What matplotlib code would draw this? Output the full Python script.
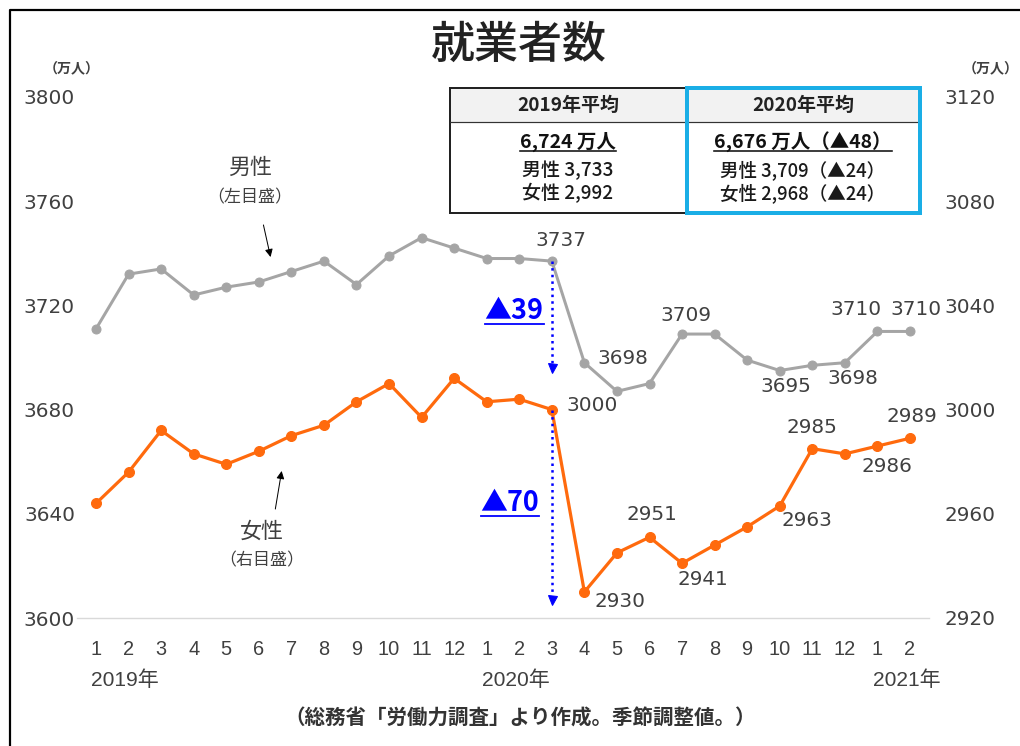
import matplotlib.pyplot as plt
import matplotlib.patches as mpatches

plt.rcParams['font.family'] = ['DejaVu Sans', 'Noto Sans CJK JP']

months = [1, 2, 3, 4, 5, 6, 7, 8, 9, 10, 11, 12,
          1, 2, 3, 4, 5, 6, 7, 8, 9, 10, 11, 12, 1, 2]
male = [3711, 3732, 3734, 3724, 3727, 3729, 3733, 3737, 3728, 3739, 3746, 3742,
        3738, 3738, 3737, 3698, 3687, 3690, 3709, 3709, 3699, 3695, 3697, 3698,
        3710, 3710]
female = [2964, 2976, 2992, 2983, 2979, 2984, 2990, 2994, 3003, 3010, 2997, 3012,
          3003, 3004, 3000, 2930, 2945, 2951, 2941, 2948, 2955, 2963, 2985, 2983,
          2986, 2989]
years = ['2019年', '2020年', '2021年']
year_idx = [0, 12, 24]

left_ticks = [3600, 3640, 3680, 3720, 3760, 3800]
right_ticks = [2920, 2960, 3000, 3040, 3080, 3120]

# which points get a value label and where (offset in px)
male_lab = {14: (9, 21), 15: (38, 4), 18: (4, 19), 21: (6, -16), 23: (8, -16),
            24: (-21, 22), 25: (6, 22)}
female_lab = {14: (40, 4), 15: (36, -10), 17: (2, 23), 18: (21, -16),
              21: (27, -15), 22: (0, 21), 24: (10, -20), 25: (2, 22)}

W, H = 1020, 746
DPI = 72
fig = plt.figure(figsize=(W / DPI, H / DPI), dpi=DPI)

x = list(range(len(months)))
ax = fig.add_axes([76.5 / W, (H - 618) / H, (929.5 - 76.5) / W, (618 - 97) / H])
ax2 = ax.twinx()

txt = '#404040'
gray = '#a5a5a5'
orange = '#ff6a0d'
jp = 'Noto Sans CJK JP'

ax.plot(x, male, color=gray, lw=3, marker='o', ms=9, zorder=3)
ax2.plot(x, female, color=orange, lw=3.2, marker='o', ms=10, zorder=3)

ax.set_xlim(-0.6, 25.6)
ax.set_ylim(3600, 3800)
ax2.set_ylim(2920, 3120)
ax.set_yticks(left_ticks)
ax2.set_yticks(right_ticks)
ax.set_xticks(x)
ax.set_xticklabels([str(m) for m in months], family='Liberation Sans')
ax.tick_params(axis='y', length=0, pad=1.5, labelsize=20, labelcolor=txt)
ax2.tick_params(axis='y', length=0, pad=15, labelsize=20, labelcolor=txt)
ax.tick_params(axis='x', length=0, pad=22, labelsize=20, labelcolor=txt)
for a in (ax, ax2):
    for s in ['top', 'left', 'right']:
        a.spines[s].set_visible(False)
    a.spines['bottom'].set_color('#d9d9d9')
    a.spines['bottom'].set_linewidth(1.2)
    a.patch.set_visible(False)

for i, (dx, dy) in male_lab.items():
    ax.annotate(str(male[i]), (i, male[i]), xytext=(dx, dy), textcoords='offset points',
                ha='center', va='center', fontsize=20, color=txt)
for i, (dx, dy) in female_lab.items():
    ax2.annotate(str(female[i]), (i, female[i]), xytext=(dx, dy), textcoords='offset points',
                 ha='center', va='center', fontsize=20, color=txt)

# blue dotted drop arrows (Feb->Apr 2020 change)
ax.plot([14, 14], [male[14], male[15] - 1], ls=':', color='blue', lw=2.5, zorder=4)
ax.plot(14, male[15] - 2, marker='v', ms=9, color='blue', zorder=4)
ax2.plot([14, 14], [female[14], female[15] - 2], ls=':', color='blue', lw=2.5, zorder=4)
ax2.plot(14, female[15] - 3, marker='v', ms=9, color='blue', zorder=4)

for xi, yr in zip(year_idx, years):
    ax.text(xi - 0.15, -0.12, yr, transform=ax.get_xaxis_transform(),
            ha='left', va='center', fontsize=21, color=txt,
            family=['Liberation Sans', jp])

# overlay in image pixel coordinates
ov = fig.add_axes([0, 0, 1, 1], zorder=10)
ov.set_xlim(0, W)
ov.set_ylim(H, 0)
ov.axis('off')

ov.plot([10, 10, W], [H, 10, 10], color='black', lw=2.2)

ov.text(519, 45, '就業者数', ha='center', va='center', fontsize=44,
        family=jp, weight='medium', color='#222222')
ov.text(72, 68, '（万人）', ha='center', va='center', fontsize=14,
        family=jp, weight='bold', color=txt)
ov.text(991, 68, '（万人）', ha='center', va='center', fontsize=14,
        family=jp, weight='bold', color=txt)

ov.text(250, 168, '男性', ha='center', va='center', fontsize=22, family=jp, color=txt)
ov.text(250, 197, '（左目盛）', ha='center', va='center', fontsize=17, family=jp, color=txt)
ov.annotate('', xy=(271, 259), xytext=(263, 223),
            arrowprops=dict(arrowstyle='-|>', color='black', lw=1, mutation_scale=16))
ov.text(262, 532, '女性', ha='center', va='center', fontsize=22, family=jp, color=txt)
ov.text(262, 560, '（右目盛）', ha='center', va='center', fontsize=17, family=jp, color=txt)
ov.annotate('', xy=(282, 469), xytext=(275, 511),
            arrowprops=dict(arrowstyle='-|>', color='black', lw=1, mutation_scale=16))

ov.text(520, 718, '（総務省「労働力調査」より作成。季節調整値。）', ha='center', va='center',
        fontsize=20.5, family=jp, weight='bold', color='#333333')

# summary table
ov.add_patch(mpatches.Rectangle((450, 88), 237, 34, fc='#f2f2f2', ec='none', zorder=1))
ov.add_patch(mpatches.Rectangle((687, 88), 233, 34, fc='#f2f2f2', ec='none', zorder=1))
ov.add_patch(mpatches.Rectangle((450, 88), 237, 125, fc='none', ec='#222222', lw=2, zorder=2))
ov.plot([450, 920], [122, 122], color='#333333', lw=1.2, zorder=2)
ov.add_patch(mpatches.Rectangle((687, 88), 233, 125, fc='none', ec='#1aaee6', lw=4, zorder=3))

ov.text(568, 105, '2019年平均', ha='center', va='center', fontsize=19,
        family=jp, weight='bold', color='#222222')
ov.text(803, 105, '2020年平均', ha='center', va='center', fontsize=19,
        family=jp, weight='bold', color='#222222')

underlined = []
underlined.append(ov.text(568, 142, '6,724 万人', ha='center', va='center', fontsize=19.5,
                          family=jp, weight='bold', color='#111111'))
underlined.append(ov.text(803, 142, '6,676 万人（▲48）', ha='center', va='center',
                          fontsize=19.5, family=jp, weight='bold', color='#111111'))
ov.text(568, 170, '男性 3,733', ha='center', va='center', fontsize=19, family=jp,
        weight='medium', color='#1a1a1a')
ov.text(568, 193, '女性 2,992', ha='center', va='center', fontsize=19, family=jp,
        weight='medium', color='#1a1a1a')
ov.text(803, 170, '男性 3,709（▲24）', ha='center', va='center', fontsize=18.5, family=jp,
        weight='medium', color='#1a1a1a')
ov.text(803, 193, '女性 2,968（▲24）', ha='center', va='center', fontsize=18.5, family=jp,
        weight='medium', color='#1a1a1a')

underlined_blue = []
underlined_blue.append(ov.text(514, 311, '▲39', ha='center', va='center', fontsize=27,
                               weight='bold', color='blue', family=jp))
underlined_blue.append(ov.text(510, 503, '▲70', ha='center', va='center', fontsize=27,
                               weight='bold', color='blue', family=jp))

fig.canvas.draw()
r = fig.canvas.get_renderer()
for t, c, lw in [(u, '#111111', 1.6) for u in underlined] + [(u, 'blue', 1.8) for u in underlined_blue]:
    bb = t.get_window_extent(r)
    yy = H - bb.y0 - 1
    ov.plot([bb.x0, bb.x1], [yy, yy], color=c, lw=lw)

fig.savefig('out.png', dpi=DPI)
